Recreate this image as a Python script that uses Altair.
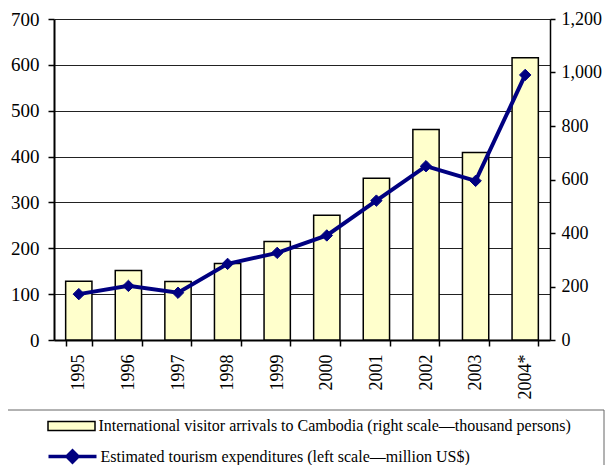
import altair as alt
import pandas as pd

years = ["1995", "1996", "1997", "1998", "1999", "2000", "2001", "2002", "2003", "2004*"]
arrivals = [220, 260, 219, 286, 368, 466, 605, 787, 701, 1055]      # thousand persons (right scale)
expenditures = [100, 118, 103, 166, 190, 228, 304, 379, 347, 578]   # million US$ (left scale)

BAR_LABEL = "International visitor arrivals to Cambodia (right scale\u2014thousand persons)"
LINE_LABEL = "Estimated tourism expenditures (left scale\u2014million US$)"
left_ticks = [0, 100, 200, 300, 400, 500, 600, 700]
right_ticks = [0, 200, 400, 600, 800, 1000, 1200]

df = pd.DataFrame({"year": years, "arrivals": arrivals, "exp": expenditures})
df["bar_series"] = BAR_LABEL
df["line_series"] = LINE_LABEL

FONT = "'Liberation Serif', 'Times New Roman', 'DejaVu Serif', serif"
BAR_PATH = "M-2.35,-0.45H2.35V0.45H-2.35Z"
LINE_PATH = "M-2.4,0H2.4M0,-0.55L0.55,0L0,0.55L-0.55,0Z"

x_enc = alt.X(
    "year:N", sort=years, title=None,
    scale=alt.Scale(paddingInner=0.47, paddingOuter=0.235),
    axis=alt.Axis(labelAngle=-90, tickBand="extent", tickSize=6, tickColor="black",
                  tickWidth=1.5, domainColor="black", domainWidth=2,
                  labelFont=FONT, labelFontSize=18, labelColor="black", labelPadding=8,
                  grid=False),
)

legend_common = dict(title=None, orient="none", direction="vertical", symbolSize=400,
                     labelOffset=16, padding=0, labelFont=FONT, labelFontSize=16,
                     labelColor="black", labelLimit=700)

bars = alt.Chart(df).mark_bar(stroke="black", strokeWidth=1.5).encode(
    x=x_enc,
    y=alt.Y("arrivals:Q", title=None,
            scale=alt.Scale(domain=[0, 1200], nice=False),
            axis=alt.Axis(orient="right", values=right_ticks, format=",.0f", grid=False,
                          tickSize=5, tickColor="black", tickWidth=1.5,
                          domainColor="black", domainWidth=1.5,
                          labelFont=FONT, labelFontSize=18, labelColor="black", labelPadding=6)),
    fill=alt.Fill("bar_series:N",
                  scale=alt.Scale(domain=[BAR_LABEL], range=["#FFFFCC"]),
                  legend=alt.Legend(legendX=6.5, legendY=396, symbolType=BAR_PATH,
                                    symbolStrokeColor="black", symbolStrokeWidth=1.5,
                                    **legend_common)),
)

y_left = alt.Y("exp:Q", title=None,
               scale=alt.Scale(domain=[0, 700], nice=False),
               axis=alt.Axis(orient="left", values=left_ticks, grid=True, gridColor="#222222",
                             gridWidth=1, tickSize=6, tickColor="black", tickWidth=1.5,
                             domainColor="black", domainWidth=2,
                             labelFont=FONT, labelFontSize=19, labelColor="black", labelPadding=9))

line = alt.Chart(df).mark_line(strokeWidth=4).encode(
    x=x_enc, y=y_left,
    stroke=alt.Stroke("line_series:N",
                      scale=alt.Scale(domain=[LINE_LABEL], range=["#000080"]),
                      legend=alt.Legend(legendX=6.5, legendY=425.5, symbolType=LINE_PATH,
                                        symbolFillColor="#000080", symbolStrokeColor="#000080",
                                        symbolStrokeWidth=3.5, **legend_common)),
)
points = alt.Chart(df).mark_point(shape="diamond", filled=True, size=130, opacity=1,
                                  fill="#000080", stroke="#000080", strokeWidth=1).encode(
    x=x_enc, y=y_left,
)
line_layer = alt.layer(line, points)

box = alt.Chart(pd.DataFrame({"k": [0]})).mark_rect(fill="transparent", stroke="#666666", strokeWidth=1).encode(
    x=alt.value(-51), x2=alt.value(550), y=alt.value(391), y2=alt.value(460),
)

chart = alt.layer(bars, line_layer, box).resolve_scale(y="independent").properties(
    width=496, height=321,
    padding={"left": 46, "top": 11, "right": 55, "bottom": 125},
    autosize=alt.AutoSizeParams(type="none"),
    background="white",
).configure_view(strokeWidth=0)

chart.save("out.html", embed_options={"renderer": "svg", "actions": False})
